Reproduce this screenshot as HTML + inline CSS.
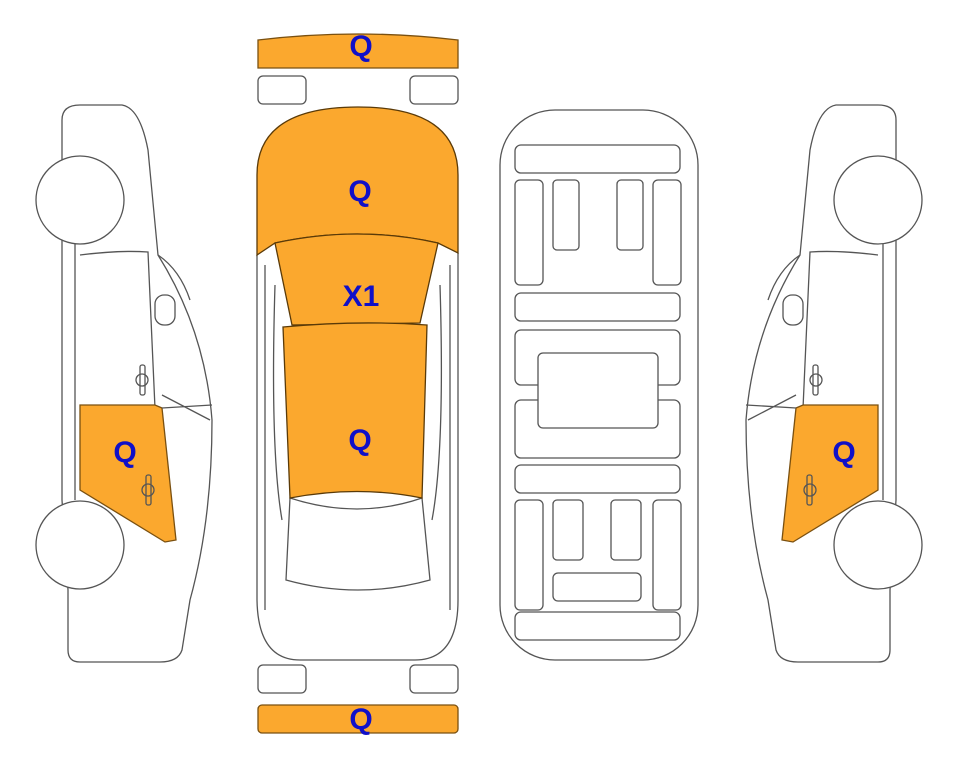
<!DOCTYPE html>
<html><head><style>body{margin:0;background:#fff}svg{display:block}text{font-family:"Liberation Sans",sans-serif;font-weight:bold;font-size:30px;fill:#1010c8;text-anchor:middle}</style></head>
<body>
<svg width="963" height="768" viewBox="0 0 963 768" fill="none" stroke="#555" stroke-width="1.3">
<defs>
<g id="side">
<path d="M62,120 Q62,105 80,105 L122,105 Q140,108 148,150 L158,255 Q205,330 212,420 Q212,520 190,600 L182,650 Q178,662 160,662 L80,662 Q68,662 68,650 L68,590 L62,500 L62,240 Z" fill="#fff"/>
<path d="M75,240 L75,500" />
<path d="M80,255 Q120,250 148,252 L160,520" />
<path d="M158,255 Q180,270 190,300" />
<path d="M80,405 L155,405 L162,408 L176,540 L165,542 L80,490 Z" fill="#fba82e" stroke="#7a5010"/>
<path d="M162,395 L210,420 M162,408 L212,405" />
<rect x="155" y="295" width="20" height="30" rx="9" fill="#fff"/>
<rect x="140" y="365" width="5" height="30" rx="2"/><circle cx="142" cy="380" r="6"/>
<rect x="146" y="475" width="5" height="30" rx="2"/><circle cx="148" cy="490" r="6"/>
<ellipse cx="80" cy="200" rx="44" ry="44" fill="#fff"/>
<ellipse cx="80" cy="545" rx="44" ry="44" fill="#fff"/>
</g>
</defs>
<use href="#side"/>
<use href="#side" transform="translate(958,0) scale(-1,1)"/>
<path d="M258,40 Q358,28 458,40 L458,68 L258,68 Z" fill="#fba82e" stroke="#7a5010"/>
<rect x="258" y="76" width="48" height="28" rx="5"/><rect x="410" y="76" width="48" height="28" rx="5"/>
<rect x="258" y="665" width="48" height="28" rx="5"/><rect x="410" y="665" width="48" height="28" rx="5"/>
<rect x="258" y="705" width="200" height="28" rx="4" fill="#fba82e" stroke="#7a5010"/>
<path d="M257,255 L257,600 Q258,660 300,660 L415,660 Q458,660 458,600 L458,253" />
<path d="M265,265 L265,610 M450,265 L450,610 M275,285 Q270,450 282,520 M440,285 Q445,450 432,520" />
<path d="M290,498 Q358,520 422,498 L430,580 Q358,600 286,580 Z"/>
<path d="M257,255 L257,175 Q257,107 358,107 Q458,107 458,175 L458,253 L438,243 Q358,225 275,243 Z" fill="#fba82e" stroke="#5a3a08"/>
<path d="M275,243 Q358,225 438,243 L420,323 L292,325 Z" fill="#fba82e" stroke="#5a3a08"/>
<path d="M283,327 Q358,320 427,325 L422,498 Q358,485 290,498 Z" fill="#fba82e" stroke="#5a3a08"/>
<rect x="500" y="110" width="198" height="550" rx="55" />
<g>
<rect x="515" y="145" width="165" height="28" rx="6"/>
<rect x="515" y="180" width="28" height="105" rx="5"/><rect x="553" y="180" width="26" height="70" rx="4"/>
<rect x="617" y="180" width="26" height="70" rx="4"/><rect x="653" y="180" width="28" height="105" rx="5"/>
<rect x="515" y="293" width="165" height="28" rx="6"/>
<rect x="515" y="330" width="165" height="55" rx="6"/><rect x="515" y="400" width="165" height="58" rx="6"/>
<rect x="538" y="353" width="120" height="75" rx="5" fill="#fff"/>
<rect x="515" y="465" width="165" height="28" rx="6"/>
<rect x="515" y="500" width="28" height="110" rx="5"/><rect x="553" y="500" width="30" height="60" rx="4"/>
<rect x="611" y="500" width="30" height="60" rx="4"/><rect x="653" y="500" width="28" height="110" rx="5"/>
<rect x="553" y="573" width="88" height="28" rx="5"/>
<rect x="515" y="612" width="165" height="28" rx="6"/>
</g>
<g stroke="none">
<text x="361" y="56">Q</text>
<text x="360" y="201">Q</text>
<text x="361" y="306">X1</text>
<text x="360" y="450">Q</text>
<text x="125" y="462">Q</text>
<text x="844" y="462">Q</text>
<text x="361" y="729">Q</text>
</g>
</svg>
</body></html>
